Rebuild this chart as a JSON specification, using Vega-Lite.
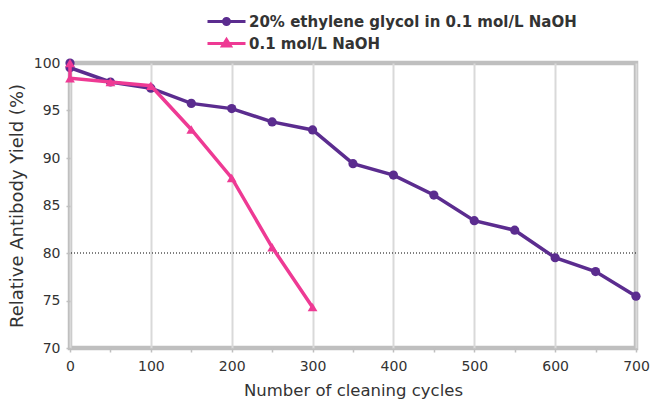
{
  "$schema": "https://vega.github.io/schema/vega-lite/v6.json",
  "width": 566,
  "height": 285,
  "autosize": "none",
  "padding": {"left": 70, "top": 63, "right": 16, "bottom": 53},
  "background": "white",
  "config": {
    "font": "DejaVu Sans",
    "view": {"stroke": "#bfbfbf", "strokeWidth": 4.5}
  },
  "data": {
    "values": [
      {"series": "20% ethylene glycol in 0.1 mol/L NaOH", "i": 0, "cycles": 0, "yield": 100},
      {"series": "20% ethylene glycol in 0.1 mol/L NaOH", "i": 1, "cycles": 0, "yield": 99.5},
      {"series": "20% ethylene glycol in 0.1 mol/L NaOH", "i": 2, "cycles": 50, "yield": 98.0},
      {"series": "20% ethylene glycol in 0.1 mol/L NaOH", "i": 3, "cycles": 100, "yield": 97.35},
      {"series": "20% ethylene glycol in 0.1 mol/L NaOH", "i": 4, "cycles": 150, "yield": 95.75},
      {"series": "20% ethylene glycol in 0.1 mol/L NaOH", "i": 5, "cycles": 200, "yield": 95.2},
      {"series": "20% ethylene glycol in 0.1 mol/L NaOH", "i": 6, "cycles": 250, "yield": 93.8},
      {"series": "20% ethylene glycol in 0.1 mol/L NaOH", "i": 7, "cycles": 300, "yield": 92.95},
      {"series": "20% ethylene glycol in 0.1 mol/L NaOH", "i": 8, "cycles": 350, "yield": 89.4},
      {"series": "20% ethylene glycol in 0.1 mol/L NaOH", "i": 9, "cycles": 400, "yield": 88.2},
      {"series": "20% ethylene glycol in 0.1 mol/L NaOH", "i": 10, "cycles": 450, "yield": 86.1},
      {"series": "20% ethylene glycol in 0.1 mol/L NaOH", "i": 11, "cycles": 500, "yield": 83.4},
      {"series": "20% ethylene glycol in 0.1 mol/L NaOH", "i": 12, "cycles": 550, "yield": 82.4},
      {"series": "20% ethylene glycol in 0.1 mol/L NaOH", "i": 13, "cycles": 600, "yield": 79.5},
      {"series": "20% ethylene glycol in 0.1 mol/L NaOH", "i": 14, "cycles": 650, "yield": 78.05},
      {"series": "20% ethylene glycol in 0.1 mol/L NaOH", "i": 15, "cycles": 700, "yield": 75.45},
      {"series": "0.1 mol/L NaOH", "i": 0, "cycles": 0, "yield": 100},
      {"series": "0.1 mol/L NaOH", "i": 1, "cycles": 0, "yield": 98.4},
      {"series": "0.1 mol/L NaOH", "i": 2, "cycles": 50, "yield": 98.0},
      {"series": "0.1 mol/L NaOH", "i": 3, "cycles": 100, "yield": 97.6},
      {"series": "0.1 mol/L NaOH", "i": 4, "cycles": 150, "yield": 93.0},
      {"series": "0.1 mol/L NaOH", "i": 5, "cycles": 200, "yield": 87.9},
      {"series": "0.1 mol/L NaOH", "i": 6, "cycles": 250, "yield": 80.6},
      {"series": "0.1 mol/L NaOH", "i": 7, "cycles": 300, "yield": 74.3}
    ]
  },
  "resolve": {"legend": {"color": "independent", "shape": "independent"}},
  "layer": [
    {
      "data": {"values": [{"ref": 80}]},
      "mark": {"type": "rule", "color": "#000000", "strokeDash": [1, 2], "strokeWidth": 1},
      "encoding": {
        "y": {"field": "ref", "type": "quantitative"}
      }
    },
    {
      "transform": [{"filter": "datum.series !== '0.1 mol/L NaOH'"}],
      "mark": {"type": "line", "strokeWidth": 3.5},
      "encoding": {
        "x": {
          "field": "cycles", "type": "quantitative",
          "scale": {"domain": [0, 700], "nice": false},
          "axis": {
            "values": [0, 50, 100, 150, 200, 250, 300, 350, 400, 450, 500, 550, 600, 650, 700],
            "labelExpr": "datum.value % 100 === 0 ? datum.label : ''",
            "grid": true,
            "gridColor": "#d9d9d9",
            "gridWidth": 2,
            "gridOpacity": {"condition": {"test": "datum.value % 100 === 0", "value": 1}, "value": 0},
            "domain": false,
            "tickColor": "#bfbfbf",
            "tickSize": 4,
            "tickWidth": 1.5,
            "labelFontSize": 14,
            "labelColor": "#333333",
            "labelPadding": 7,
            "labelFlush": false,
            "title": "Number of cleaning cycles",
            "titleFontSize": 16.5,
            "titleFontWeight": "normal",
            "titleColor": "#333333",
            "titlePadding": 9
          }
        },
        "y": {
          "field": "yield", "type": "quantitative",
          "scale": {"domain": [70, 100], "zero": false, "nice": false},
          "axis": {
            "values": [70, 75, 80, 85, 90, 95, 100],
            "grid": false,
            "domain": false,
            "tickColor": "#bfbfbf",
            "tickSize": 4,
            "tickWidth": 1.5,
            "labelFontSize": 14,
            "labelColor": "#333333",
            "labelPadding": 6,
            "labelFlush": false,
            "title": "Relative Antibody Yield (%)",
            "titleFontSize": 18,
            "titleFontWeight": "normal",
            "titleColor": "#333333",
            "titlePadding": 7
          }
        },
        "color": {
          "field": "series", "type": "nominal",
          "scale": {
            "domain": ["20% ethylene glycol in 0.1 mol/L NaOH", "0.1 mol/L NaOH"],
            "range": ["#5b2c8f", "#ee3a94"]
          },
          "legend": null
        },
        "order": {"field": "i", "type": "quantitative"}
      }
    },
    {
      "transform": [{"filter": "datum.series !== '0.1 mol/L NaOH'"}],
      "mark": {"type": "point", "shape": "circle", "filled": true, "opacity": 1, "size": 85},
      "encoding": {
        "x": {"field": "cycles", "type": "quantitative"},
        "y": {"field": "yield", "type": "quantitative"},
        "color": {"field": "series", "type": "nominal", "legend": null}
      }
    },
    {
      "transform": [{"filter": "datum.series === '0.1 mol/L NaOH'"}],
      "mark": {"type": "line", "strokeWidth": 3.5},
      "encoding": {
        "x": {"field": "cycles", "type": "quantitative"},
        "y": {"field": "yield", "type": "quantitative"},
        "color": {"field": "series", "type": "nominal", "legend": null},
        "order": {"field": "i", "type": "quantitative"}
      }
    },
    {
      "transform": [{"filter": "datum.series === '0.1 mol/L NaOH'"}],
      "mark": {"type": "point", "shape": "triangle-up", "filled": true, "opacity": 1, "size": 95},
      "encoding": {
        "x": {"field": "cycles", "type": "quantitative"},
        "y": {"field": "yield", "type": "quantitative"},
        "color": {"field": "series", "type": "nominal", "legend": null}
      }
    },
    {
      "transform": [{"filter": "datum.i === 0"}],
      "mark": {"type": "point", "filled": false, "opacity": 0, "strokeWidth": 3, "size": 100},
      "encoding": {
        "x": {"field": "cycles", "type": "quantitative"},
        "y": {"field": "yield", "type": "quantitative"},
        "color": {
          "field": "series", "type": "nominal",
          "legend": {
            "orient": "none",
            "legendX": 149,
            "legendY": -49,
            "title": null,
            "symbolSize": 100,
            "symbolStrokeWidth": 3,
            "symbolOpacity": 1,
            "labelOffset": 15,
            "labelLimit": 500,
            "labelFontSize": 15,
            "labelFontWeight": "bold",
            "labelColor": "#333333",
            "rowPadding": 2,
            "padding": 0
          }
        },
        "shape": {
          "field": "series", "type": "nominal",
          "scale": {
            "domain": ["20% ethylene glycol in 0.1 mol/L NaOH", "0.1 mol/L NaOH"],
            "range": ["M-3.8,0H3.8M0.6,0A0.6,0.6,0,1,1,-0.6,0A0.6,0.6,0,1,1,0.6,0", "M-3.8,0H3.8M0,-0.8L0.8,0.5L-0.8,0.5Z"]
          },
          "legend": {
            "orient": "none",
            "legendX": 149,
            "legendY": -49,
            "title": null,
            "symbolSize": 100,
            "symbolStrokeWidth": 3,
            "symbolOpacity": 1,
            "labelOffset": 15,
            "labelLimit": 500,
            "labelFontSize": 15,
            "labelFontWeight": "bold",
            "labelColor": "#333333",
            "rowPadding": 2,
            "padding": 0
          }
        }
      }
    }
  ]
}
